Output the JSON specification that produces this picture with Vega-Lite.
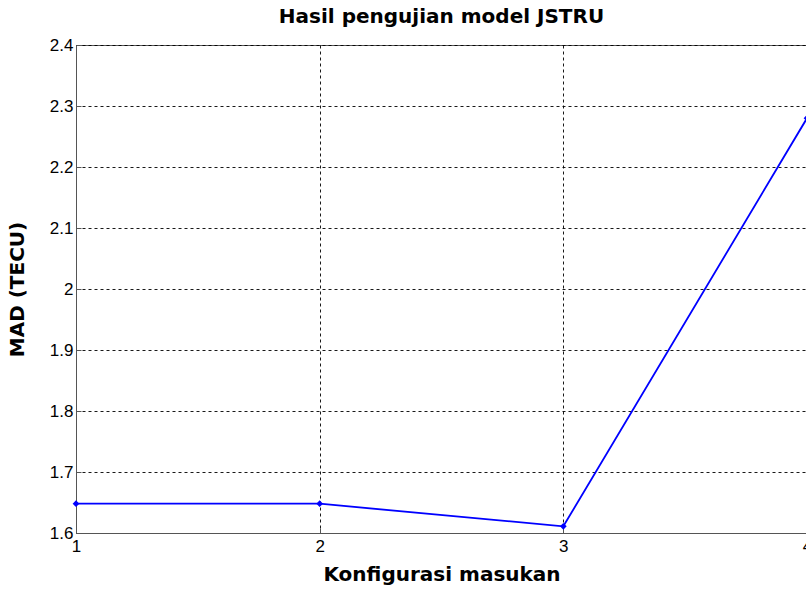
{
  "$schema": "https://vega.github.io/schema/vega-lite/v6.json",
  "width": 731,
  "height": 488,
  "autosize": "none",
  "padding": {"left": 76, "top": 45, "right": 0, "bottom": 58},
  "background": "white",
  "title": {
    "text": "Hasil pengujian model JSTRU",
    "font": "DejaVu Sans",
    "fontWeight": "bold",
    "fontSize": 20,
    "color": "black",
    "anchor": "middle",
    "offset": 9
  },
  "config": {
    "view": {"stroke": "#555555", "strokeWidth": 1},
    "axis": {
      "labelFont": "Liberation Sans",
      "labelFontSize": 17,
      "labelColor": "black",
      "titleFont": "DejaVu Sans",
      "titleFontWeight": "bold",
      "titleFontSize": 20,
      "titleColor": "black",
      "domainColor": "#555555",
      "tickColor": "#555555",
      "tickSize": -5,
      "gridColor": "black",
      "gridDash": [3, 3],
      "gridOpacity": 0.9,
      "gridWidth": 1
    }
  },
  "data": {
    "values": [
      {"konfigurasi": 1, "mad": 1.648},
      {"konfigurasi": 2, "mad": 1.648},
      {"konfigurasi": 3, "mad": 1.611},
      {"konfigurasi": 4, "mad": 2.28}
    ]
  },
  "encoding": {
    "x": {
      "field": "konfigurasi",
      "type": "quantitative",
      "scale": {"domain": [1, 4], "nice": false, "zero": false},
      "axis": {"title": "Konfigurasi masukan", "values": [1, 2, 3, 4], "format": "d", "labelPadding": 10, "titlePadding": 10, "labelFlush": false}
    },
    "y": {
      "field": "mad",
      "type": "quantitative",
      "scale": {"domain": [1.6, 2.4], "nice": false, "zero": false},
      "axis": {"title": "MAD (TECU)", "values": [1.6, 1.7, 1.8, 1.9, 2.0, 2.1, 2.2, 2.3, 2.4], "format": ".1~f", "labelPadding": 8, "titlePadding": 22, "labelFlush": false}
    }
  },
  "layer": [
    {"mark": {"type": "line", "color": "#0000ff", "strokeWidth": 1.8}},
    {"mark": {"type": "point", "shape": "diamond", "filled": true, "color": "#0000ff", "size": 45, "opacity": 1}}
  ]
}
